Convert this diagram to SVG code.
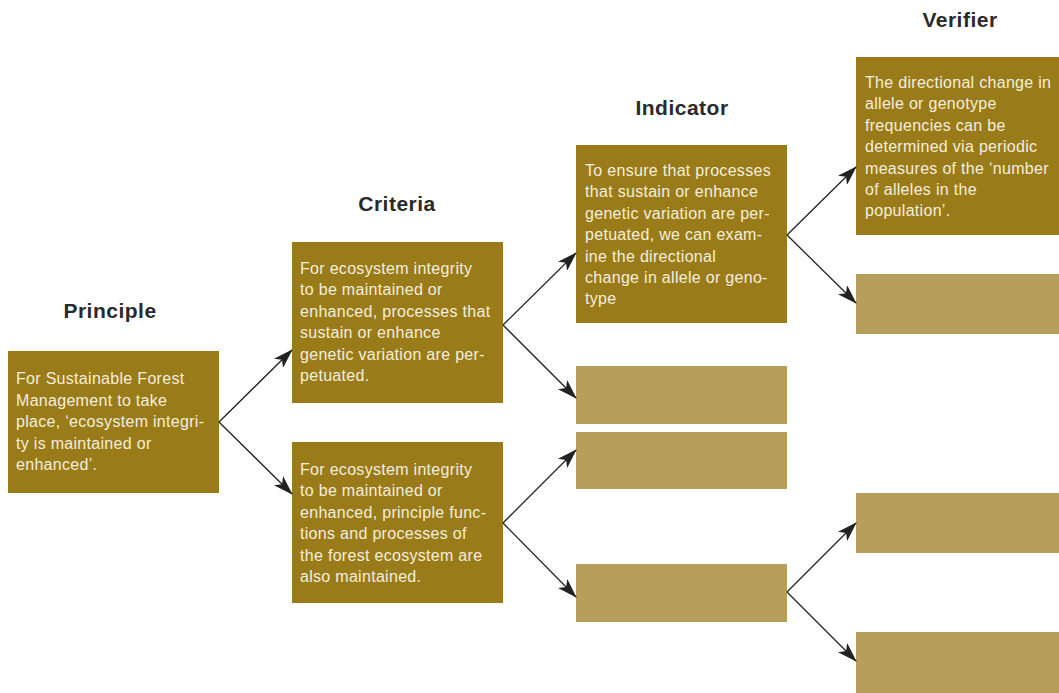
<svg xmlns="http://www.w3.org/2000/svg" width="1059" height="693" viewBox="0 0 1059 693">
<style>
.dark{fill:#9a7b1a}
.light{fill:#b69f5b}
.t{font-family:"Liberation Sans",Arial,sans-serif;font-size:16px;letter-spacing:0.3px;fill:#f3eedb}
.h{font-family:"Liberation Sans",Arial,sans-serif;font-size:21px;letter-spacing:0.5px;font-weight:bold;fill:#2a2a2a;text-anchor:middle}
.c{stroke:#222;stroke-width:1.3;fill:none;marker-end:url(#ah)}
</style>
<defs>
<marker id="ah" markerWidth="20" markerHeight="13" refX="19" refY="6.5" orient="auto" markerUnits="userSpaceOnUse">
<path d="M0,0 L20,6.5 L0,13 L5,6.5 z" fill="#222"/>
</marker>
</defs>
<rect width="1059" height="693" fill="#fff"/>
<g id="titles">
<text class="h" x="110" y="318">Principle</text>
<text class="h" x="397" y="211">Criteria</text>
<text class="h" x="682" y="115">Indicator</text>
<text class="h" x="960" y="27">Verifier</text>
</g>
<g id="principle">
<rect class="dark" x="8" y="351" width="211" height="142"/>
<text class="t" x="16" y="384"><tspan x="16">For Sustainable Forest</tspan><tspan x="16" dy="21.5">Management to take</tspan><tspan x="16" dy="21.5">place, ‘ecosystem integri-</tspan><tspan x="16" dy="21.5">ty is maintained or</tspan><tspan x="16" dy="21.5">enhanced’.</tspan></text>
</g>
<g id="criteria1">
<rect class="dark" x="292" y="242" width="211" height="161"/>
<text class="t" x="300" y="274"><tspan x="300">For ecosystem integrity</tspan><tspan x="300" dy="21.4">to be maintained or</tspan><tspan x="300" dy="21.4">enhanced, processes that</tspan><tspan x="300" dy="21.4">sustain or enhance</tspan><tspan x="300" dy="21.4">genetic variation are per-</tspan><tspan x="300" dy="21.4">petuated.</tspan></text>
</g>
<g id="criteria2">
<rect class="dark" x="292" y="442" width="211" height="161"/>
<text class="t" x="300" y="475"><tspan x="300">For ecosystem integrity</tspan><tspan x="300" dy="21.4">to be maintained or</tspan><tspan x="300" dy="21.4">enhanced, principle func-</tspan><tspan x="300" dy="21.4">tions and processes of</tspan><tspan x="300" dy="21.4">the forest ecosystem are</tspan><tspan x="300" dy="21.4">also maintained.</tspan></text>
</g>
<g id="indicator1">
<rect class="dark" x="576" y="145" width="211" height="178"/>
<text class="t" x="585" y="176"><tspan x="585">To ensure that processes</tspan><tspan x="585" dy="21.4">that sustain or enhance</tspan><tspan x="585" dy="21.4">genetic variation are per-</tspan><tspan x="585" dy="21.4">petuated, we can exam-</tspan><tspan x="585" dy="21.4">ine the directional</tspan><tspan x="585" dy="21.4">change in allele or geno-</tspan><tspan x="585" dy="21.4">type</tspan></text>
</g>
<g id="indicator2"><rect class="light" x="576" y="366" width="211" height="58"/></g>
<g id="indicator3"><rect class="light" x="576" y="432" width="211" height="57"/></g>
<g id="indicator4"><rect class="light" x="576" y="564" width="211" height="58"/></g>
<g id="verifier1">
<rect class="dark" x="856" y="57" width="203" height="178"/>
<text class="t" x="865" y="88"><tspan x="865">The directional change in</tspan><tspan x="865" dy="21.4">allele or genotype</tspan><tspan x="865" dy="21.4">frequencies can be</tspan><tspan x="865" dy="21.4">determined via periodic</tspan><tspan x="865" dy="21.4">measures of the ‘number</tspan><tspan x="865" dy="21.4">of alleles in the</tspan><tspan x="865" dy="21.4">population’.</tspan></text>
</g>
<g id="verifier2"><rect class="light" x="856" y="274" width="203" height="60"/></g>
<g id="verifier3"><rect class="light" x="856" y="493" width="203" height="60"/></g>
<g id="verifier4"><rect class="light" x="856" y="632" width="203" height="61"/></g>
<g id="connectors">
<path class="c" d="M219,422 L292,350"/>
<path class="c" d="M219,422 L292,494"/>
<path class="c" d="M503,325 L576,253"/>
<path class="c" d="M503,325 L576,398"/>
<path class="c" d="M503,523 L576,450"/>
<path class="c" d="M503,523 L576,597"/>
<path class="c" d="M787,235 L856,167"/>
<path class="c" d="M787,235 L856,303"/>
<path class="c" d="M787,592 L856,523"/>
<path class="c" d="M787,592 L856,661"/>
</g>
</svg>
